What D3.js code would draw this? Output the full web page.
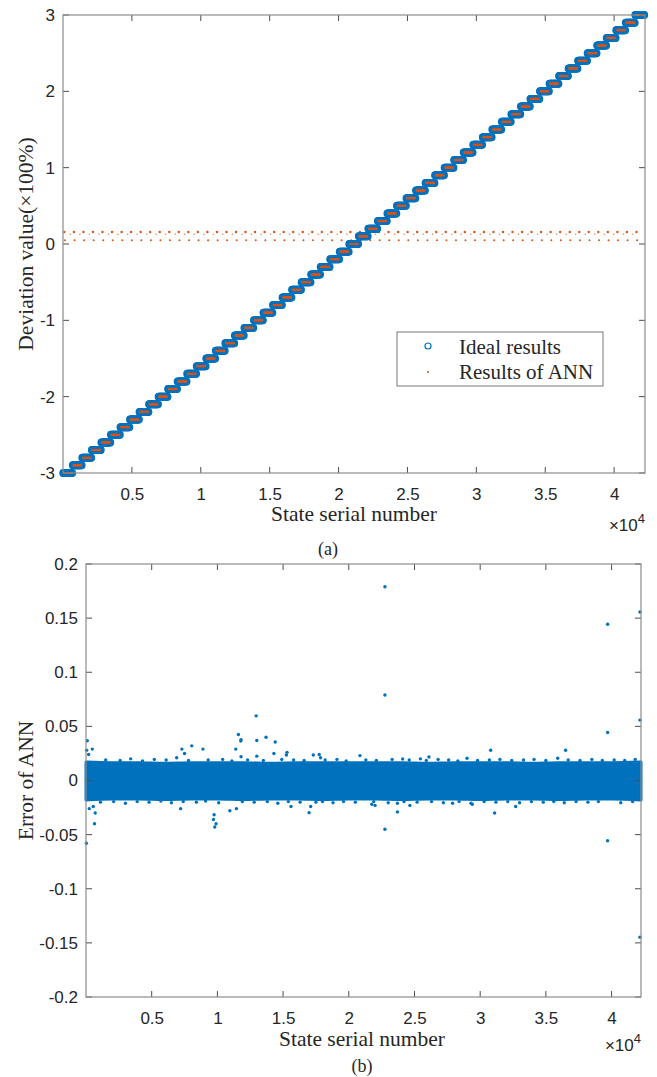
<!DOCTYPE html>
<html>
<head>
<meta charset="utf-8">
<script src="https://cdn.jsdelivr.net/npm/d3@7"></script>
<style>
  html, body { margin: 0; padding: 0; background: #fff; }
  svg { display: block; }
  .tick text { font-family: "Liberation Sans", Arial, sans-serif; font-size: 17px; fill: #262626; }
  .lbl { font-family: "Liberation Serif", "Times New Roman", serif; fill: #262626; }
</style>
</head>
<body>
<svg id="fig" width="657" height="1077"></svg>
<script>
// ---- data ----------------------------------------------------------------
// total number of states and the width (in states) of each deviation level
const stateCount = 42240;
const statesPerLevel = 692;

// ideal deviation levels (×100%), one plateau per block of states
const levels = [
  -3.0, -2.9, -2.8, -2.7, -2.6, -2.5, -2.4, -2.3, -2.2, -2.1,
  -2.0, -1.9, -1.8, -1.7, -1.6, -1.5, -1.4, -1.3, -1.2, -1.1,
  -1.0, -0.9, -0.8, -0.7, -0.6, -0.5, -0.4, -0.3, -0.2, -0.1,
   0.0,  0.1,  0.2,  0.3,  0.4,  0.5,  0.6,  0.7,  0.8,  0.9,
   1.0,  1.1,  1.2,  1.3,  1.4,  1.5,  1.6,  1.7,  1.8,  1.9,
   2.0,  2.1,  2.2,  2.3,  2.4,  2.5,  2.6,  2.7,  2.8,  2.9,
   3.0
];

// stray ANN outputs that appear once per level near zero
const strayValues  = [0.158, 0.127, 0.048];
const strayOffsets = [100, -160, 150];      // states from level start
const strayRadius  = [1.2, 0.8, 1.0];

// ANN error band (dense core), sampled every 2000 states
const bandStates = [0, 2000, 4000, 6000, 8000, 10000, 12000, 14000, 16000, 18000,
                    20000, 22000, 24000, 26000, 28000, 30000, 32000, 34000, 36000, 38000, 40000, 42240];
const bandUpper  = [0.017, 0.0165, 0.0165, 0.016, 0.0165, 0.0165, 0.0165, 0.016, 0.0165, 0.0165,
                    0.0165, 0.0165, 0.0165, 0.016, 0.0165, 0.0165, 0.0165, 0.016, 0.0165, 0.0165, 0.0165, 0.017];
const bandLower  = [-0.018, -0.017, -0.017, -0.0175, -0.017, -0.017, -0.0175, -0.017, -0.017, -0.0175,
                    -0.017, -0.017, -0.0175, -0.017, -0.017, -0.0175, -0.017, -0.017, -0.0175, -0.017, -0.017, -0.018];

// scattered ANN errors along the edges of the band: [state, error]
const edgePoints = [
  [1500, 0.019], [2600, 0.0185], [3400, 0.020], [4300, 0.018], [5200, 0.0195], [6100, 0.019],
  [6900, 0.021], [7800, 0.0185], [9300, 0.019], [10400, 0.0195], [11100, 0.018], [12300, 0.019],
  [13500, 0.0185], [14900, 0.0195], [15800, 0.019], [16600, 0.0185], [18200, 0.019], [19100, 0.0195],
  [19800, 0.018], [21300, 0.019], [22100, 0.0185], [23300, 0.0195], [24600, 0.019], [25900, 0.0185],
  [26800, 0.0195], [27600, 0.019], [29000, 0.0205], [29800, 0.0185], [30700, 0.019], [31500, 0.0195],
  [32400, 0.0185], [33300, 0.019], [34100, 0.0195], [35000, 0.0185], [35900, 0.0205], [36700, 0.019],
  [37600, 0.0185], [38500, 0.0195], [39300, 0.0185], [40200, 0.019], [41000, 0.0185], [41800, 0.0195],
  [1100, -0.020], [2100, -0.0195], [3000, -0.021], [3900, -0.0195], [4800, -0.020], [5700, -0.019],
  [6500, -0.0205], [7400, -0.0195], [8400, -0.020], [9100, -0.019], [10100, -0.0205], [11900, -0.0195],
  [12800, -0.020], [13800, -0.0195], [14600, -0.021], [15400, -0.0195], [16300, -0.020], [18000, -0.0195],
  [18800, -0.0205], [19600, -0.0195], [20500, -0.020], [21900, -0.0195], [23000, -0.0205], [24200, -0.0195],
  [25200, -0.020], [26300, -0.0195], [27200, -0.0205], [28400, -0.0195], [29300, -0.021], [30300, -0.0195],
  [31200, -0.020], [32100, -0.0195], [33000, -0.0205], [33900, -0.0195], [34800, -0.020], [35600, -0.0195],
  [36400, -0.0205], [37300, -0.0195], [38200, -0.020], [39000, -0.0195], [40700, -0.0205], [41600, -0.0195]
];

// individual ANN errors outside the dense band: [state, error]
const errorOutliers = [
  [100, 0.0367], [50, 0.028], [480, 0.029], [200, 0.024], [30, -0.058], [650, -0.040],
  [250, -0.026], [550, -0.024], [700, -0.030],
  [8050, 0.032], [7300, 0.029], [8900, 0.029], [7500, 0.025], [7200, -0.026],
  [9800, -0.043], [9900, -0.040], [9700, -0.036], [9750, -0.0316],
  [11600, 0.0425], [11800, 0.0376], [11780, 0.0364], [11400, 0.029],
  [13000, 0.037], [13700, 0.040], [14400, 0.0355], [14300, 0.025], [15300, 0.026],
  [15250, 0.0235], [17300, 0.0235], [17750, 0.024], [17850, 0.021], [20850, 0.023],
  [11800, 0.022], [13000, 0.0225], [12950, 0.0597],
  [10950, -0.028], [11450, -0.026], [15600, -0.024], [17100, -0.024], [16980, -0.0297],
  [17500, -0.020], [22750, -0.045], [23700, -0.029], [23700, -0.021], [24650, -0.023],
  [21750, -0.022], [22000, -0.023], [27900, -0.021],
  [25450, 0.020], [26100, 0.0217], [24100, 0.0198], [28300, 0.018],
  [30800, 0.028], [36500, 0.028], [31100, -0.030], [32700, -0.024], [29400, -0.022],
  [22750, 0.179], [22750, 0.079],
  [39700, 0.1444], [39700, 0.0444], [39700, -0.0556],
  [42160, 0.1557], [42160, 0.0558], [42160, -0.1447]
];

// tick values
const xTicks = [5000, 10000, 15000, 20000, 25000, 30000, 35000, 40000];
const yTicksTop = [-3, -2, -1, 0, 1, 2, 3];
const yTicksBottom = [-0.2, -0.15, -0.1, -0.05, 0, 0.05, 0.1, 0.15, 0.2];

// ---- drawing ---------------------------------------------------------------
const blue = "#0072BD", orange = "#D95319";
const svg = d3.select("#fig");
const plain = d => String(+d.toFixed(2));   // ASCII hyphen for negatives

function frame(g, x, y, yTicks) {
  const [x0, x1] = x.range(), [y1, y0] = y.range();
  const tickLen = 6;
  const ax = g.append("g");
  // tick marks on all four sides, pointing inward
  xTicks.forEach(t => {
    ax.append("line").attr("x1", x(t)).attr("x2", x(t)).attr("y1", y1).attr("y2", y1 - tickLen).attr("stroke", "#4d4d4d");
    ax.append("line").attr("x1", x(t)).attr("x2", x(t)).attr("y1", y0).attr("y2", y0 + tickLen).attr("stroke", "#4d4d4d");
  });
  yTicks.forEach(t => {
    ax.append("line").attr("x1", x0).attr("x2", x0 + tickLen).attr("y1", y(t)).attr("y2", y(t)).attr("stroke", "#4d4d4d");
    ax.append("line").attr("x1", x1).attr("x2", x1 - tickLen).attr("y1", y(t)).attr("y2", y(t)).attr("stroke", "#4d4d4d");
  });
  ax.append("rect").attr("x", x0).attr("y", y0).attr("width", x1 - x0).attr("height", y1 - y0)
    .attr("fill", "none").attr("stroke", "#8c8c8c").attr("stroke-width", 1.2);

  const xa = g.append("g").attr("transform", `translate(0,${y1})`)
    .call(d3.axisBottom(x).tickValues(xTicks).tickSize(0).tickPadding(15).tickFormat(d => plain(d / 10000)));
  xa.select(".domain").remove();
  const ya = g.append("g").attr("transform", `translate(${x0},0)`)
    .call(d3.axisLeft(y).tickValues(yTicks).tickSize(0).tickPadding(8).tickFormat(plain));
  ya.select(".domain").remove();
}

function exponent(g, xr, yb) {
  const e = g.append("text").attr("x", xr).attr("y", yb).attr("text-anchor", "end")
    .attr("font-family", "Liberation Sans, Arial, sans-serif").attr("font-size", 17).attr("fill", "#262626");
  e.append("tspan").text("×10");
  e.append("tspan").attr("dy", -8).attr("font-size", 13).text("4");
}

// ---------- (a) deviation staircase ----------
{
  const x = d3.scaleLinear().domain([0, stateCount]).range([63, 645]);
  const y = d3.scaleLinear().domain([-3, 3]).range([473, 15]);
  const g = svg.append("g");

  // stray ANN outputs near zero
  levels.forEach((lv, i) => {
    strayValues.forEach((v, k) => {
      const s = i * statesPerLevel + strayOffsets[k];
      if (s < 0 || s > stateCount) return;
      g.append("circle").attr("cx", x(s)).attr("cy", y(v)).attr("r", strayRadius[k])
        .attr("fill", orange).attr("opacity", k === 1 ? 0.7 : 1);
    });
  });

  // ideal results: open circles along each plateau
  const ideal = g.append("g");
  levels.forEach((lv, i) => {
    for (let s = i * statesPerLevel + 20; s < (i + 1) * statesPerLevel; s += 40) {
      ideal.append("circle").attr("cx", x(s)).attr("cy", y(lv)).attr("r", 3.3)
        .attr("fill", "none").attr("stroke", blue).attr("stroke-width", 1.4);
    }
  });
  // ANN results: dots on the plateau
  const ann = g.append("g");
  levels.forEach((lv, i) => {
    for (let s = i * statesPerLevel + 60; s < (i + 1) * statesPerLevel - 40; s += 25) {
      ann.append("circle").attr("cx", x(s)).attr("cy", y(lv)).attr("r", 1.1).attr("fill", orange);
    }
  });

  frame(g, x, y, yTicksTop);

  g.append("text").attr("class", "lbl").attr("font-size", 21.5)
    .attr("transform", `translate(33,${y(0)}) rotate(-90)`).attr("text-anchor", "middle")
    .text("Deviation value(×100%)");
  g.append("text").attr("class", "lbl").attr("font-size", 21.5).attr("x", 354).attr("y", 521)
    .attr("text-anchor", "middle").text("State serial number");
  exponent(g, 645, 531);
  g.append("text").attr("class", "lbl").attr("font-size", 18).attr("x", 328).attr("y", 555)
    .attr("text-anchor", "middle").text("(a)");

  // legend
  const lg = g.append("g");
  lg.append("rect").attr("x", 397).attr("y", 332).attr("width", 206).attr("height", 54)
    .attr("fill", "#fff").attr("stroke", "#555").attr("stroke-width", 0.8);
  lg.append("circle").attr("cx", 428).attr("cy", 346).attr("r", 3).attr("fill", "none")
    .attr("stroke", blue).attr("stroke-width", 1.2);
  lg.append("circle").attr("cx", 428).attr("cy", 372).attr("r", 1).attr("fill", orange);
  lg.append("text").attr("class", "lbl").attr("font-size", 21).attr("x", 459).attr("y", 354).text("Ideal results");
  lg.append("text").attr("class", "lbl").attr("font-size", 21).attr("x", 459).attr("y", 379).text("Results of ANN");
}

// ---------- (b) ANN error ----------
{
  const x = d3.scaleLinear().domain([0, stateCount]).range([86, 641]);
  const y = d3.scaleLinear().domain([-0.2, 0.2]).range([997, 564]);
  const g = svg.append("g");

  const band = d3.area()
    .x((d, i) => x(bandStates[i]))
    .y0((d, i) => y(bandLower[i]))
    .y1((d, i) => y(bandUpper[i]))
    .curve(d3.curveMonotoneX);
  g.append("path").datum(bandStates).attr("d", band).attr("fill", blue)
    .attr("stroke", blue).attr("stroke-width", 3).attr("stroke-linejoin", "round");

  g.selectAll("circle.edge").data(edgePoints).join("circle").attr("class", "edge")
    .attr("cx", d => x(d[0])).attr("cy", d => y(d[1])).attr("r", 1.7).attr("fill", blue);
  g.selectAll("circle.out").data(errorOutliers).join("circle").attr("class", "out")
    .attr("cx", d => x(d[0])).attr("cy", d => y(d[1])).attr("r", 1.7).attr("fill", blue);

  frame(g, x, y, yTicksBottom);

  g.append("text").attr("class", "lbl").attr("font-size", 21.5)
    .attr("transform", `translate(33,${y(0)}) rotate(-90)`).attr("text-anchor", "middle")
    .text("Error of ANN");
  g.append("text").attr("class", "lbl").attr("font-size", 21.5).attr("x", 362).attr("y", 1046)
    .attr("text-anchor", "middle").text("State serial number");
  exponent(g, 641, 1051);
  g.append("text").attr("class", "lbl").attr("font-size", 18).attr("x", 362).attr("y", 1072)
    .attr("text-anchor", "middle").text("(b)");
}
</script>
</body>
</html>
